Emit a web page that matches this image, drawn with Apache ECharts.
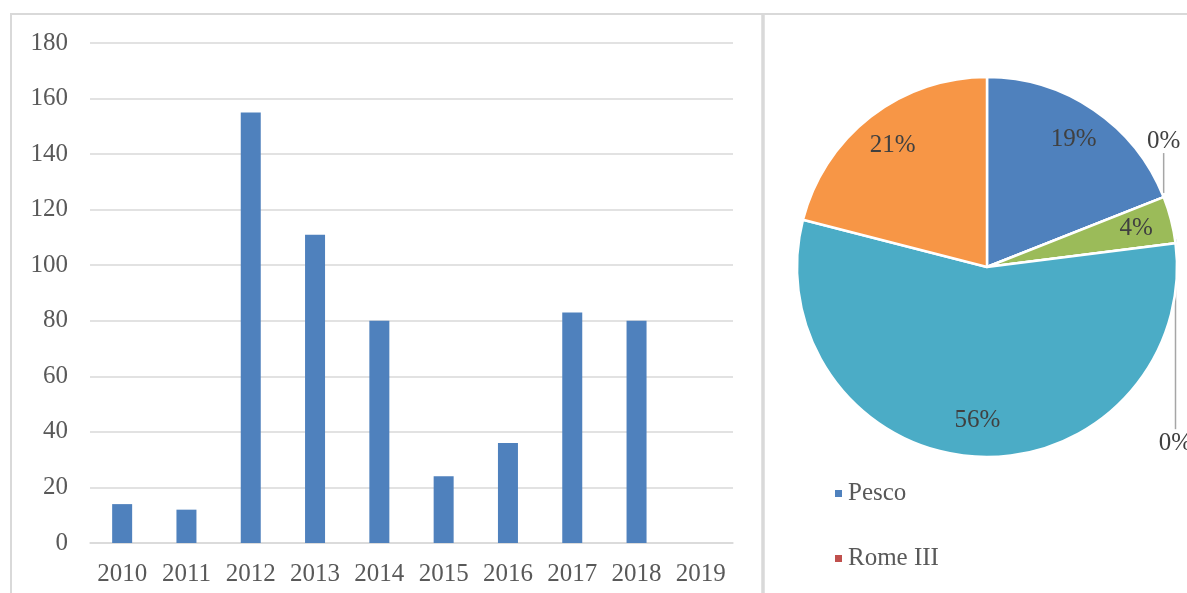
<!DOCTYPE html>
<html>
<head>
<meta charset="utf-8">
<title>chart</title>
<script src="https://cdn.jsdelivr.net/npm/echarts@6/dist/echarts.min.js"></script>
<style>
html,body{margin:0;padding:0;background:#fff;}
#main{width:1187px;height:593px;}
</style>
</head>
<body>
<div id="main"></div>
<script>
// bar chart data
var years = ['2010','2011','2012','2013','2014','2015','2016','2017','2018','2019'];
var counts = [14, 12, 155, 111, 80, 24, 36, 83, 80, 0];
var yTicks = [0, 180, 20]; // min, max, interval

// pie chart data (percent)
var pieNames = ['Pesco', 'Rome III', 'Unitary Patent', 'Property Regimes', 'EPPO', 'FTT'];
var pieValues = [19, 0, 4, 0, 56, 21];
var pieColors = ['#4f81bd', '#c0504d', '#9bbb59', '#8064a2', '#4bacc6', '#f79646'];

window.onload = function () {
	var myChart = echarts.init(document.getElementById('main'));
	var font = '"Liberation Serif", "Times New Roman", serif';

	// how far the leader line of a 0% label runs from the pie edge (like excel did it)
	var zeroLeader = { 1: -44, 3: 186 };

	// main sectors: only zero slices get an outside label
	var pieData = pieNames.map(function (n, i) {
		var zero = pieValues[i] === 0;
		return {
			name: n,
			value: pieValues[i],
			label: { show: zero },
			labelLine: { show: zero }
		};
	});
	// transparent ring on top, just to put the inside labels further out
	var ringData = pieNames.map(function (n, i) {
		return {
			name: n,
			value: pieValues[i],
			label: { show: pieValues[i] > 0 }
		};
	});

	var option = {
		animation: false,
		color: pieColors,
		graphic: [
			// frame of the two chart boxes
			{ type: 'rect', shape: { x: 11, y: 14, width: 1300, height: 700 }, style: { fill: 'none', stroke: '#d9d9d9', lineWidth: 2 }, silent: true },
			{ type: 'line', shape: { x1: 763, y1: 14, x2: 763, y2: 600 }, style: { stroke: '#d9d9d9', lineWidth: 3.5 }, silent: true }
		],
		grid: { left: 90, right: 454, top: 43, bottom: 50 },
		xAxis: {
			type: 'category',
			data: years,
			axisTick: { show: false },
			axisLine: { lineStyle: { color: '#d9d9d9', width: 1.5 } },
			axisLabel: { fontFamily: font, fontSize: 25, color: '#595959', margin: 19, interval: 0 }
		},
		yAxis: {
			type: 'value',
			min: yTicks[0],
			max: yTicks[1],
			interval: yTicks[2],
			axisLine: { show: false },
			axisTick: { show: false },
			axisLabel: { fontFamily: font, fontSize: 25, color: '#595959', margin: 22 },
			splitLine: { lineStyle: { color: '#d9d9d9', width: 1.5 } }
		},
		legend: {
			data: pieNames.slice(0, 2),
			orient: 'vertical',
			left: 828,
			top: 476,
			itemWidth: 9,
			itemHeight: 9,
			itemGap: 40,
			icon: 'rect',
			textStyle: { fontFamily: font, fontSize: 25, color: '#595959' }
		},
		series: [
			{
				name: 'count',
				type: 'bar',
				data: counts,
				barWidth: 20,
				itemStyle: { color: '#4f81bd' }
			},
			{
				name: 'share',
				type: 'pie',
				center: [987, 267],
				radius: [0, 190],
				startAngle: 90,
				clockwise: true,
				data: pieData,
				itemStyle: { borderColor: '#fff', borderWidth: 2.5 },
				label: {
					position: 'outside',
					formatter: '{d}%',
					overflow: 'none',
					fontFamily: font,
					fontSize: 25,
					color: '#404040'
				},
				labelLine: { length: 20, length2: 0, lineStyle: { color: '#a6a6a6', width: 1.5 } },
				labelLayout: function (p) {
					var d = zeroLeader[p.dataIndex];
					if (d === undefined || !p.labelLinePoints) return {};
					var a = p.labelLinePoints[0];
					var end = [a[0], a[1] + d];
					return {
						x: a[0],
						y: d < 0 ? end[1] + 1 : end[1] + 2,
						align: 'center',
						verticalAlign: d < 0 ? 'bottom' : 'top',
						labelLinePoints: [[a[0], a[1] - 4], end, end]
					};
				}
			},
			{
				name: 'labels',
				type: 'pie',
				center: [987, 267],
				radius: [112, 190],
				startAngle: 90,
				clockwise: true,
				silent: true,
				data: ringData,
				itemStyle: { color: 'transparent', borderWidth: 0 },
				label: {
					position: 'inside',
					formatter: '{d}%',
					fontFamily: font,
					fontSize: 25,
					color: '#404040'
				},
				labelLine: { show: false }
			}
		]
	};
	myChart.setOption(option);
};
</script>
</body>
</html>
